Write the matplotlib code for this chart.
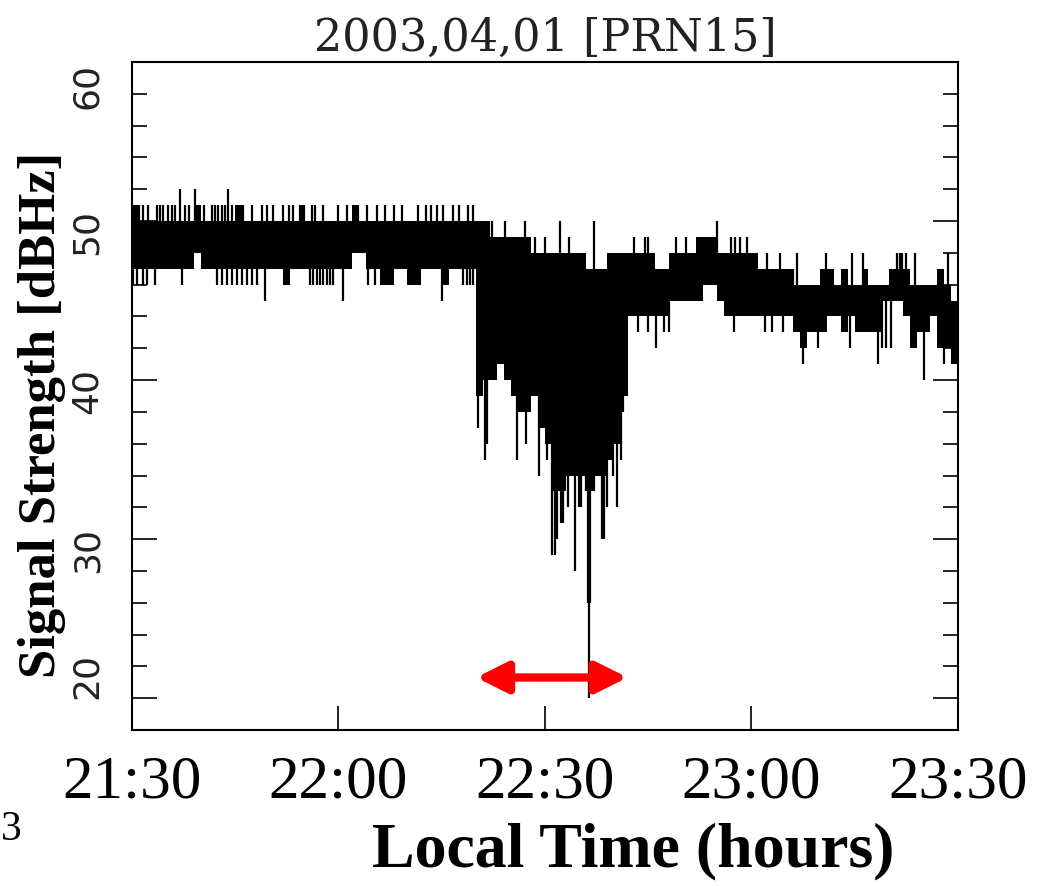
import numpy as np
import matplotlib.pyplot as plt
from matplotlib.ticker import MultipleLocator

# signal strength PRN15, 2003-04-01; time in minutes after 21:30
# per-minute envelope of the trace (bottom / top of the dense band, dBHz)
band_hi = [51, 50, 50, 50, 50, 50, 50, 50, 50, 51,
           50, 50, 50, 50, 50, 51, 50, 50, 50, 50,
           50, 50, 50, 50, 50, 50, 50, 50, 50, 50,
           50, 50, 51, 50, 50, 50, 50, 50, 50, 50,
           50, 50, 50, 50, 50, 50, 50, 50, 50, 50,
           50, 50, 49, 49, 49, 49, 49, 49, 48, 48,
           48, 48, 48, 48, 48, 48, 47, 47, 47, 48,
           48, 48, 48, 48, 48, 48, 47, 47, 48, 48,
           48, 48, 49, 49, 49, 48, 48, 48, 48, 48,
           48, 47, 47, 47, 47, 47, 46, 46, 46, 46,
           47, 47, 46, 47, 46, 46, 47, 46, 46, 46,
           47, 47, 47, 46, 46, 46, 46, 47, 46, 45]
band_lo = [47, 47, 47, 47, 47, 47, 47, 47, 47, 48,
           47, 47, 47, 47, 47, 47, 47, 47, 47, 47,
           47, 47, 46, 47, 47, 47, 47, 47, 47, 47,
           47, 47, 48, 48, 47, 47, 46, 46, 47, 47,
           46, 46, 47, 47, 47, 46, 47, 47, 47, 47,
           39, 40, 40, 41, 40, 39, 38, 38, 39, 37,
           36, 33, 33, 34, 34, 34, 33, 34, 34, 35,
           36, 39, 44, 44, 44, 44, 44, 44, 45, 45,
           45, 45, 45, 46, 46, 45, 44, 44, 44, 44,
           44, 44, 44, 44, 44, 44, 43, 42, 43, 43,
           43, 44, 44, 43, 44, 43, 43, 43, 43, 45,
           45, 45, 44, 42, 43, 43, 44, 42, 42, 41]

# single samples sticking out of the band
spike_t = [0.6, 1.0, 1.6, 2.3, 3.6, 4.1, 4.5, 5.2, 5.8, 6.3,
           7.0, 7.7, 8.3, 9.2, 10.5, 11.6, 12.1, 12.5, 13.1, 13.5,
           13.9, 14.5, 16.2, 17.4, 18.9, 19.6, 20.5, 21.9, 22.8, 23.4,
           24.4, 24.7, 25.0, 26.2, 26.6, 27.8, 29.9, 31.3, 32.9, 34.1,
           35.6, 36.8, 38.0, 39.3, 41.5, 42.7, 43.5, 44.3, 45.2, 46.6,
           47.5, 48.8, 49.5,
           0.1, 0.7, 1.6, 2.2, 3.3, 7.3, 12.4, 13.1, 13.8, 14.6,
           15.3, 16.0, 16.7, 17.4, 18.2, 19.3, 25.8, 26.3, 26.9, 27.3,
           27.7, 28.3, 28.8, 29.2, 30.7, 34.3, 35.3, 45.0, 48.1, 48.7,
           49.1, 49.5,
           50.3, 51.3, 51.6, 55.9, 56.7, 57.3, 59.1, 60.3, 61.0, 61.4,
           61.7, 62.3, 62.6, 63.3, 64.4, 65.0, 65.3, 65.9, 66.3, 66.6,
           66.4, 67.1, 68.3, 68.6, 69.0, 69.9, 70.5, 71.0, 71.3,
           50.8, 52.3, 54.2, 57.1, 62.2, 67.1, 55.5, 58.6, 60.0, 63.5,
           73.0, 74.6, 75.0, 79.0, 80.5, 85.0, 87.0, 87.6, 88.3, 89.4,
           92.3, 94.2, 96.6, 100.8, 104.6, 111.1, 111.6, 111.9, 112.4, 113.8,
           118.6, 96.0, 106.2,
           75.0, 73.5, 76.1, 77.3, 78.0, 87.5, 92.0, 93.0, 94.6, 97.5,
           99.7, 104.3, 108.4, 109.0, 109.5, 110.2, 115.0, 118.0, 119.5]
spike_v = [51, 51, 51, 51, 51, 51, 51, 51, 51, 51,
           52, 51, 51, 52, 51, 51, 51, 51, 51, 51,
           52, 51, 51, 51, 51, 51, 51, 51, 51, 51,
           51, 51, 51, 51, 51, 51, 51, 51, 51, 51,
           51, 51, 51, 51, 51, 51, 51, 51, 51, 51,
           51, 51, 51,
           46, 46, 46, 46, 46, 46, 46, 46, 46, 46,
           46, 46, 46, 46, 46, 45, 46, 46, 46, 46,
           46, 46, 46, 46, 45, 46, 46, 45, 46, 46,
           46, 46,
           37, 35, 36, 35, 38, 36, 34, 35, 29, 29,
           30, 31, 31, 32, 28, 32, 32, 33, 26, 26,
           20, 33, 30, 30, 32, 34, 32, 35, 38,
           50, 50, 50, 50, 50, 50, 49, 49, 49, 49,
           49, 49, 49, 49, 49, 50, 49, 49, 49, 49,
           48, 48, 48, 48, 48, 48, 48, 48, 48, 48,
           48, 47, 48,
           43, 43, 42, 43, 43, 43, 43, 43, 43, 41,
           42, 42, 41, 42, 42, 42, 40, 41, 41]

# interval of the fade (22:20 - 22:42)
event_start = 50.0
event_end = 72.0
event_level = 21.3

t0 = 21.5  # 21:30 in hours


def to_hours(m):
    return t0 + np.asarray(m) / 60.0


hi = np.array(band_hi + band_hi[-1:], dtype=float)
lo = np.array(band_lo + band_lo[-1:], dtype=float)
edges = np.arange(len(hi))

fig = plt.figure(figsize=(10.61, 8.87), dpi=100)
ax = fig.add_axes([0.1244, 0.1759, 0.7785, 0.7531])

ax.fill_between(to_hours(edges), lo, hi, step='post', color='black', linewidth=0)

idx = np.clip(np.array(spike_t).astype(int), 0, len(band_hi) - 1)
mid = (np.array(band_hi)[idx] + np.array(band_lo)[idx]) / 2.0
ax.vlines(to_hours(spike_t), np.minimum(mid, spike_v), np.maximum(mid, spike_v),
          color='black', linewidth=1.6)

ax.annotate('', xy=(to_hours(event_end), event_level), xytext=(to_hours(event_start), event_level),
            arrowprops=dict(arrowstyle='<|-|>', color='red', lw=6, mutation_scale=46,
                            shrinkA=0, shrinkB=0))

ax.set_xlim(21.5, 23.5)
ax.set_ylim(18, 60)

for s in ax.spines.values():
    s.set_linewidth(1.5)

ax.set_xticks([21.5, 22.0, 22.5, 23.0, 23.5])
ax.set_xticklabels(['21:30', '22:00', '22:30', '23:00', '23:30'],
                   fontfamily='Liberation Serif', fontsize=44)
ax.tick_params(axis='x', direction='in', length=17, width=1.2, top=False, pad=17)

ax.set_yticks([20, 30, 40, 50, 60])
ax.yaxis.set_minor_locator(MultipleLocator(2))
ax.set_yticklabels(['20', '30', '40', '50', '60'], rotation=90,
                   fontfamily='DejaVu Sans', fontsize=26, color='#222222')
ax.tick_params(axis='y', which='major', direction='in', length=18, width=1.2,
               left=True, right=True, pad=20)
ax.tick_params(axis='y', which='minor', direction='in', length=11, width=1.2,
               left=True, right=True)
ylabs = ax.get_yticklabels()
ylabs[0].set_va('bottom')
ylabs[-1].set_va('top')

ax.set_title('2003,04,01 [PRN15]', fontfamily='DejaVu Serif', fontsize=32,
             color='#222222', pad=9)

fig.text(42 / 1061, 1 - 415 / 887, 'Signal Strength [dBHz]', rotation=90,
         ha='center', va='center', fontfamily='Liberation Serif',
         fontweight='bold', fontsize=38)
fig.text(633 / 1061, 1 - 866 / 887, 'Local Time (hours)', ha='center', va='baseline',
         fontfamily='Liberation Serif', fontweight='bold', fontsize=46)
fig.text(0.001, 1 - 830 / 887, '3', ha='left', va='center',
         fontfamily='Liberation Serif', fontsize=30)

fig.savefig('out.png', dpi=100)
